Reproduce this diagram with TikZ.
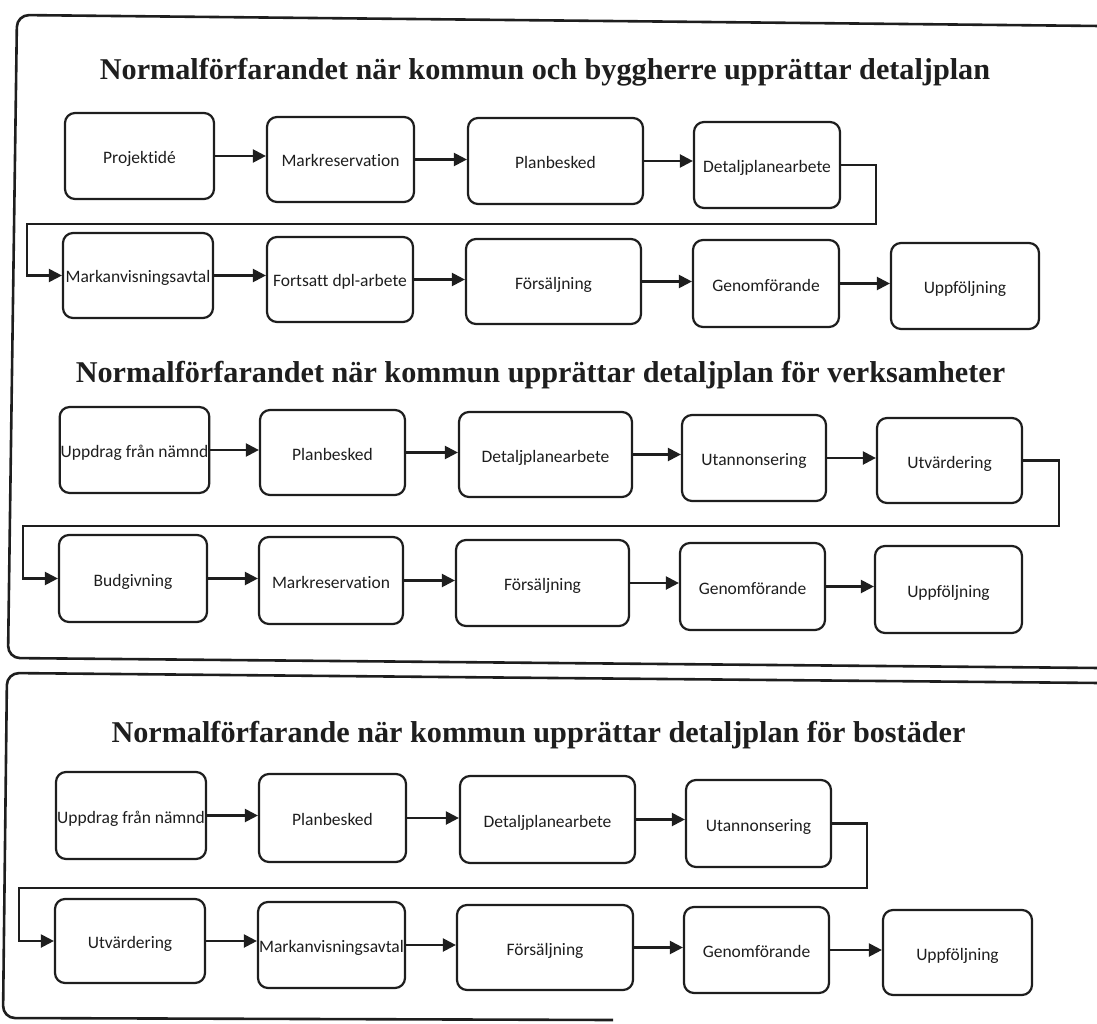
\documentclass[tikz,border=0pt]{standalone}
\usepackage{fontspec}
\setmainfont{Liberation Serif}
\newfontfamily\boxfont[Ligatures={NoCommon,NoRequired,NoContextual}]{Carlito}
\usetikzlibrary{arrows.meta}
\definecolor{ink}{HTML}{1E1E1E}
\begin{document}
\begin{tikzpicture}[x=1pt,y=-1pt,
  box/.style={draw=ink, line width=2.2pt, rounded corners=10pt, align=center, inner sep=1pt,
              text height=16pt, text depth=1pt,
              font=\boxfont\fontsize{17.5}{20}\selectfont, text=ink},
  bx/.style 2 args={minimum width=#1pt, minimum height=#2pt},
  ttl/.style={anchor=base, font=\bfseries\fontsize{30.2}{36}\selectfont, text=ink},
  arr/.style={draw=ink, line width=2.2pt, -{Triangle[length=13pt,width=13pt]}},
  frm/.style={draw=ink, line width=2.6pt, rounded corners=12pt}]
\useasboundingbox (0,0) rectangle (1097,1024);

% frames
\coordinate (f1a) at (1100,26);
\coordinate (f1b) at (17,15);
\coordinate (f1c) at (8,658);
\coordinate (f1d) at (1100,668);
\draw[frm] (f1a) -- (f1b) -- (f1c) -- (f1d);
\coordinate (f2a) at (1100,683);
\coordinate (f2b) at (7,673);
\coordinate (f2c) at (3,1018);
\coordinate (f2d) at (613,1020);
\draw[frm] (f2a) -- (f2b) -- (f2c) -- (f2d);

% titles
\node[ttl] (t1) at (545,80) {Normalförfarandet när kommun och byggherre upprättar detaljplan};
\node[ttl] (t2) at (540.5,382) {Normalförfarandet när kommun upprättar detaljplan för verksamheter};
\node[ttl] (t3) at (538.5,742) {Normalförfarande när kommun upprättar detaljplan för bostäder};

% section 1
\node[box,bx={149}{86}] (A1) at (139.5,156) {Projektidé};
\node[box,bx={147}{85}] (A2) at (340.5,159.5) {Markreservation};
\node[box,bx={175}{86}] (A3) at (555.5,161) {Planbesked};
\node[box,bx={146}{86}] (A4) at (767,165) {Detaljplanearbete};
\node[box,bx={150}{85}] (B1) at (138,275.5) {Markanvisningsavtal};
\node[box,bx={146}{85}] (B2) at (340,279.5) {Fortsatt dpl-arbete};
\node[box,bx={175}{85}] (B3) at (553.5,281.5) {Försäljning};
\node[box,bx={146}{87}] (B4) at (766,283.5) {Genomförande};
\node[box,bx={148}{86}] (B5) at (965,286) {Uppföljning};

% section 2
\node[box,bx={147}{86}] (C1) at (134.5,450) {Uppdrag från nämnd};
\node[box,bx={145}{85}] (C2) at (332.5,452.5) {Planbesked};
\node[box,bx={173}{85}] (C3) at (545.5,454.5) {Detaljplanearbete};
\node[box,bx={144}{86}] (C4) at (754,458) {Utannonsering};
\node[box,bx={145}{85}] (C5) at (949.5,460.5) {Utvärdering};
\node[box,bx={148}{87}] (D1) at (133,578.5) {Budgivning};
\node[box,bx={144}{87}] (D2) at (331,580.5) {Markreservation};
\node[box,bx={173}{86}] (D3) at (542.5,583) {Försäljning};
\node[box,bx={145}{87}] (D4) at (752.5,586.5) {Genomförande};
\node[box,bx={147}{87}] (D5) at (948.5,589.5) {Uppföljning};

% section 3
\node[box,bx={150}{87}] (E1) at (131,815.5) {Uppdrag från nämnd};
\node[box,bx={147}{88}] (E2) at (332.5,818) {Planbesked};
\node[box,bx={175}{87}] (E3) at (547.5,819.5) {Detaljplanearbete};
\node[box,bx={145}{87}] (E4) at (758.5,823.5) {Utannonsering};
\node[box,bx={150}{84}] (F1) at (130,941) {Utvärdering};
\node[box,bx={147}{86}] (F2) at (331.5,945) {Markanvisningsavtal};
\node[box,bx={176}{85}] (F3) at (545,947.5) {Försäljning};
\node[box,bx={145}{86}] (F4) at (756.5,950) {Genomförande};
\node[box,bx={149}{85}] (F5) at (957.5,952.5) {Uppföljning};

% straight arrows
\foreach \a/\b in {A1/A2,A2/A3,A3/A4,B1/B2,B2/B3,B3/B4,B4/B5,
                   C1/C2,C2/C3,C3/C4,C4/C5,D1/D2,D2/D3,D3/D4,D4/D5,
                   E1/E2,E2/E3,E3/E4,F1/F2,F2/F3,F3/F4,F4/F5}
  \draw[arr] (\a.east) -- (\a.east -| \b.west);

% wrap-around connectors
\coordinate (w1r) at (876,224);
\coordinate (w1l) at (27,224);
\draw[arr] (A4.east) -| (w1r) -- (w1l) |- (B1.west);
\coordinate (w2r) at (1059,526);
\coordinate (w2l) at (23,526);
\draw[arr] (C5.east) -| (w2r) -- (w2l) |- (D1.west);
\coordinate (w3r) at (867,888);
\coordinate (w3l) at (19,888);
\draw[arr] (E4.east) -| (w3r) -- (w3l) |- (F1.west);
\end{tikzpicture}
\end{document}
